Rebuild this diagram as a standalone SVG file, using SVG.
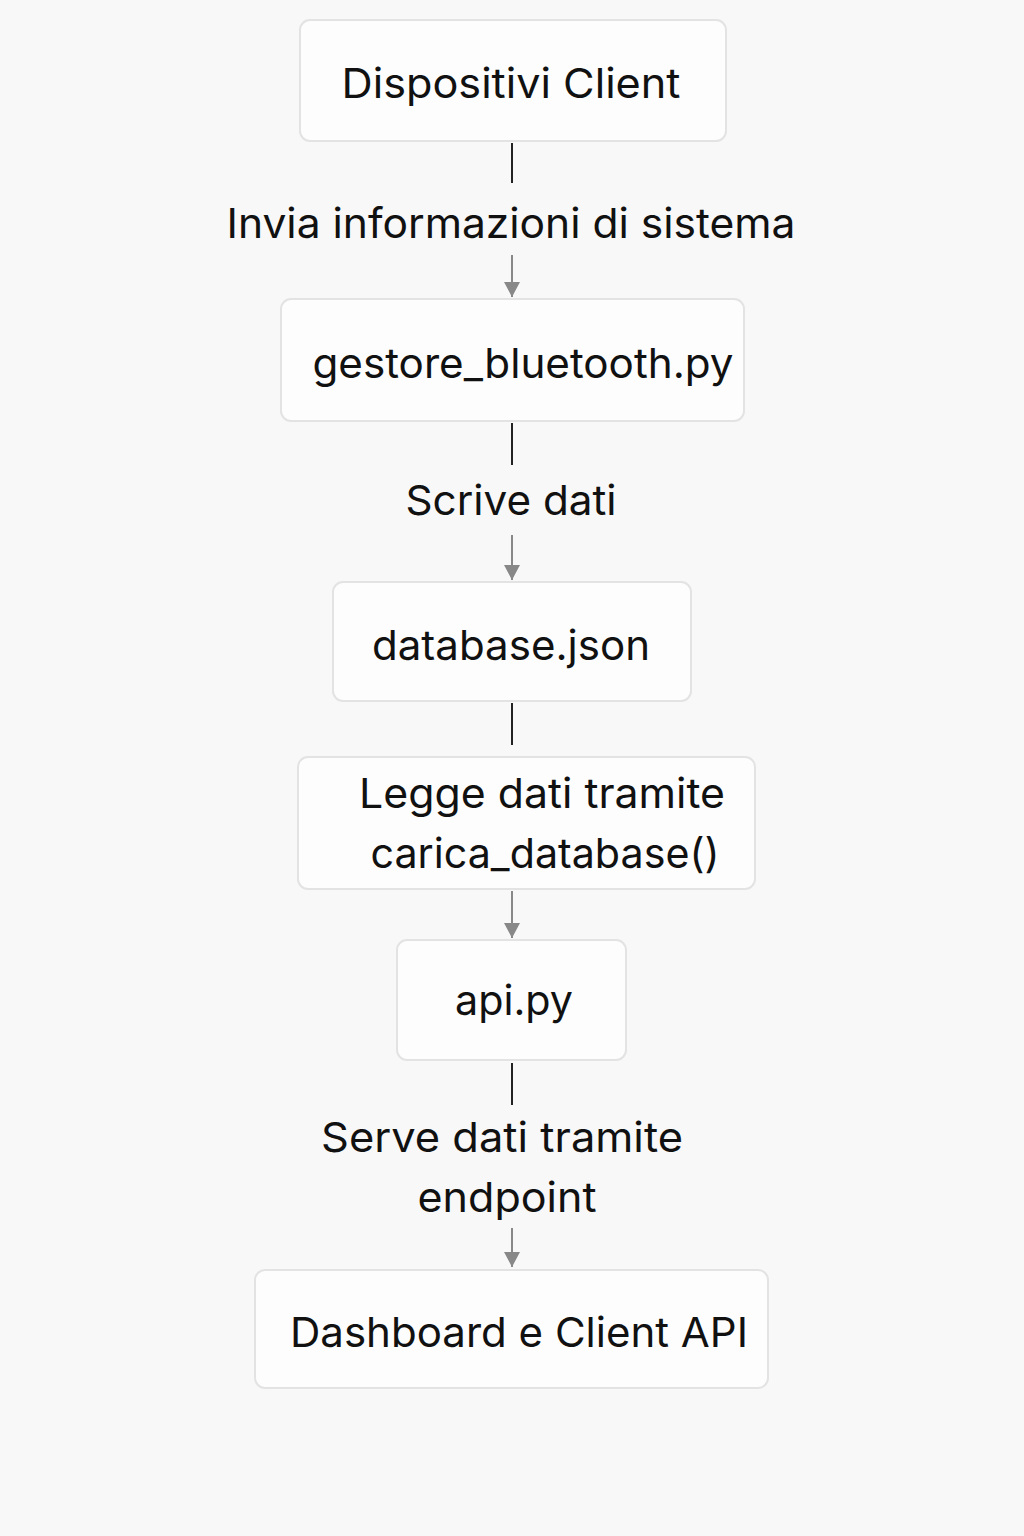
<svg xmlns="http://www.w3.org/2000/svg" width="1024" height="1536" viewBox="0 0 1024 1536">
<defs>
<style>
.node rect{fill:#fdfdfd;stroke:#e3e3e3;stroke-width:2}
text{font-family:Inter,"Liberation Sans",sans-serif;font-size:41px;fill:#111;text-anchor:middle}
.dark{stroke:#222;stroke-width:2;fill:none}
.gray{stroke:#888;stroke-width:2;fill:none}
</style>
<marker id="ah" viewBox="0 0 10 10" refX="10" refY="5" markerWidth="15" markerHeight="16" markerUnits="userSpaceOnUse" orient="auto" preserveAspectRatio="none">
<path d="M0,0 L10,5 L0,10 z" fill="#888"/>
</marker>
</defs>
<rect width="1024" height="1536" fill="#f8f8f8"/>
<g id="connectors">
<line class="dark" x1="512" y1="143" x2="512" y2="183"/>
<line class="gray" x1="512" y1="255" x2="512" y2="297" marker-end="url(#ah)"/>
<line class="dark" x1="512" y1="423" x2="512" y2="465"/>
<line class="gray" x1="512" y1="535" x2="512" y2="580" marker-end="url(#ah)"/>
<line class="dark" x1="512" y1="703" x2="512" y2="745"/>
<line class="gray" x1="512" y1="891" x2="512" y2="938" marker-end="url(#ah)"/>
<line class="dark" x1="512" y1="1063" x2="512" y2="1105"/>
<line class="gray" x1="512" y1="1228" x2="512" y2="1267" marker-end="url(#ah)"/>
<text x="511" y="238" textLength="569" lengthAdjust="spacingAndGlyphs">Invia informazioni di sistema</text>
<text x="511" y="515" textLength="211" lengthAdjust="spacingAndGlyphs">Scrive dati</text>
<text x="502" y="1152" textLength="362" lengthAdjust="spacingAndGlyphs">Serve dati tramite</text>
<text x="507" y="1212" textLength="179" lengthAdjust="spacingAndGlyphs">endpoint</text>
</g>
<g id="n1" class="node"><rect x="300" y="20" width="426" height="121" rx="10"/><text x="511" y="98" textLength="339" lengthAdjust="spacingAndGlyphs">Dispositivi Client</text></g>
<g id="n2" class="node"><rect x="281" y="299" width="463" height="122" rx="10"/><text x="523" y="378" textLength="421" lengthAdjust="spacingAndGlyphs">gestore_bluetooth.py</text></g>
<g id="n3" class="node"><rect x="333" y="582" width="358" height="119" rx="10"/><text x="511" y="660" textLength="278" lengthAdjust="spacingAndGlyphs">database.json</text></g>
<g id="n4" class="node"><rect x="298" y="757" width="457" height="132" rx="10"/><text x="542" y="808" textLength="366" lengthAdjust="spacingAndGlyphs">Legge dati tramite</text><text x="545" y="868" textLength="349" lengthAdjust="spacingAndGlyphs">carica_database()</text></g>
<g id="n5" class="node"><rect x="397" y="940" width="229" height="120" rx="10"/><text x="514" y="1015" textLength="118" lengthAdjust="spacingAndGlyphs">api.py</text></g>
<g id="n6" class="node"><rect x="255" y="1270" width="513" height="118" rx="10"/><text x="519" y="1347" textLength="458" lengthAdjust="spacingAndGlyphs">Dashboard e Client API</text></g>
</svg>
